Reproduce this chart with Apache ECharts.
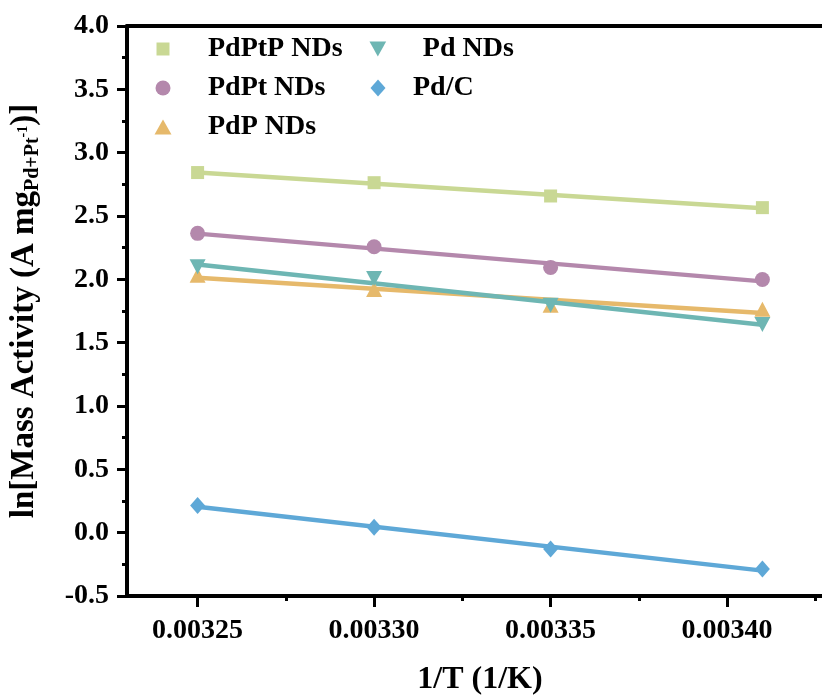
<!DOCTYPE html>
<html>
<head>
<meta charset="utf-8">
<script src="https://cdn.jsdelivr.net/npm/echarts@6/dist/echarts.min.js"></script>
<style>
  html, body { margin: 0; padding: 0; background: #ffffff; }
  #chart { width: 822px; height: 695px; }
</style>
</head>
<body>
<div id="chart"></div>
<script>
// Arrhenius-type plot: ln(mass activity) versus inverse temperature
const invT = [0.00325, 0.00330, 0.00335, 0.00341];

const seriesNames = ['PdPtP NDs', 'PdPt NDs', 'PdP NDs', 'Pd NDs', 'Pd/C'];
const pdptp = [2.843, 2.763, 2.658, 2.566];
const pdpt  = [2.363, 2.257, 2.094, 1.999];
const pdp   = [2.033, 1.920, 1.796, 1.764];
const pd    = [2.099, 2.007, 1.796, 1.643];
const pdc   = [0.214, 0.042, -0.129, -0.287];

const xMajorTicks = [0.00325, 0.00330, 0.00335, 0.00340];
const xMinorTicks = [0.003275, 0.003325, 0.003375, 0.003425];

const colors = ['#c9d894', '#b488ac', '#e6b96b', '#6eb6b3', '#5ea8d7'];
const downTriangle = 'path://M0,0 L10,0 L5,9 Z';
const symbols = ['rect', 'circle', 'triangle', downTriangle, 'diamond'];
const symbolSizes = [13, 15, [16, 15], [16, 15], [15, 17]];
const values = [pdptp, pdpt, pdp, pd, pdc];

// least-squares straight line through each data set
function linearFit(xs, ys) {
  const n = xs.length;
  const mx = xs.reduce((a, b) => a + b, 0) / n;
  const my = ys.reduce((a, b) => a + b, 0) / n;
  let sxy = 0, sxx = 0;
  for (let i = 0; i < n; i++) {
    sxy += (xs[i] - mx) * (ys[i] - my);
    sxx += (xs[i] - mx) * (xs[i] - mx);
  }
  const k = sxy / sxx;
  const b = my - k * mx;
  const x0 = xs[0], x1 = xs[n - 1];
  return [[x0, k * x0 + b], [x1, k * x1 + b]];
}

const FONT = '"Liberation Serif", "Times New Roman", serif';

const fitSeries = values.map((ys, i) => ({
  name: seriesNames[i] + ' fit',
  type: 'line',
  data: linearFit(invT, ys),
  showSymbol: false,
  symbol: 'none',
  lineStyle: { color: colors[i], width: 4.5 },
  z: 2,
  silent: true
}));

const pointSeries = values.map((ys, i) => ({
  name: seriesNames[i],
  type: 'scatter',
  data: invT.map((x, j) => [x, ys[j]]),
  symbol: symbols[i],
  symbolSize: symbolSizes[i],
  itemStyle: { color: colors[i], opacity: 1 },
  z: 3
}));

// one legend block per entry, laid out in two columns
const legendSpec = [
  { name: 'PdPtP NDs', cx: 163, cy: 49, w: 13, h: 13, textX: 208 },
  { name: 'PdPt NDs',  cx: 163, cy: 88, w: 15, h: 15, textX: 208 },
  { name: 'PdP NDs',   cx: 163, cy: 127, w: 17, h: 15, textX: 208 },
  { name: 'Pd NDs',    cx: 378, cy: 49, w: 17, h: 15, textX: 423 },
  { name: 'Pd/C',      cx: 378, cy: 88, w: 15, h: 17, textX: 413 }
];
const legends = legendSpec.map(s => ({
  data: [s.name],
  orient: 'vertical',
  left: s.cx - s.w / 2,
  top: s.cy - 14,
  padding: 0,
  itemWidth: s.w,
  itemHeight: s.h,
  selectedMode: false,
  textStyle: {
    fontFamily: FONT,
    fontWeight: 'bold',
    fontSize: 28,
    lineHeight: 28,
    color: '#000',
    padding: [0, 0, 0, s.textX - s.cx - s.w / 2 - 5]
  }
}));

const axisLineStyle = { color: '#000', width: 4 };

const option = {
  animation: false,
  backgroundColor: '#ffffff',
  legend: legends,
  grid: {
    left: 127, top: 26, width: 706, height: 570,
    containLabel: false,
    outerBoundsMode: 'none'
  },
  xAxis: [
    {
      type: 'value',
      min: 0.00323,
      max: 0.00343,
      position: 'bottom',
      axisLine: { show: true, onZero: false, lineStyle: axisLineStyle },
      axisTick: { show: true, inside: false, customValues: xMajorTicks, length: 11, lineStyle: { color: '#000', width: 3 } },
      axisLabel: {
        customValues: xMajorTicks,
        margin: 21,
        formatter: v => v.toFixed(5),
        fontFamily: FONT, fontWeight: 'bold', fontSize: 28, color: '#000'
      },
      splitLine: { show: false },
      name: '1/T (1/K)',
      nameLocation: 'middle',
      nameGap: 68,
      nameTextStyle: { fontFamily: FONT, fontWeight: 'bold', fontSize: 32, color: '#000' }
    },
    {
      type: 'value',
      min: 0.00323,
      max: 0.00343,
      position: 'bottom',
      axisLine: { show: false, onZero: false },
      axisTick: { show: true, inside: false, customValues: xMinorTicks, length: 5, lineStyle: { color: '#000', width: 3 } },
      axisLabel: { show: false },
      splitLine: { show: false }
    },
    {
      type: 'value',
      min: 0.00323,
      max: 0.00343,
      position: 'top',
      axisLine: { show: true, onZero: false, lineStyle: axisLineStyle },
      axisTick: { show: false },
      axisLabel: { show: false },
      splitLine: { show: false }
    }
  ],
  yAxis: {
    type: 'value',
    min: -0.5,
    max: 4.0,
    interval: 0.5,
    axisLine: { show: true, onZero: false, lineStyle: axisLineStyle },
    axisTick: { show: true, inside: false, length: 10, lineStyle: { color: '#000', width: 3 } },
    minorTick: { show: true, splitNumber: 2, length: 5, lineStyle: { color: '#000', width: 3 } },
    axisLabel: {
      margin: 18,
      formatter: v => v.toFixed(1),
      fontFamily: FONT, fontWeight: 'bold', fontSize: 28, color: '#000'
    },
    splitLine: { show: false },
    name: '{a|ln[Mass Activity (A mg}{sub|Pd+Pt}{sup|-1}{a|)]}',
    nameLocation: 'middle',
    nameRotate: 90,
    nameGap: 84,
    nameTextStyle: {
      fontFamily: FONT, fontWeight: 'bold', color: '#000',
      rich: {
        a: { fontFamily: FONT, fontWeight: 'bold', fontSize: 33, color: '#000', lineHeight: 38 },
        sub: { fontFamily: FONT, fontWeight: 'bold', fontSize: 20, color: '#000', verticalAlign: 'bottom', lineHeight: 38, padding: [12, 0, 0, 0] },
        sup: { fontFamily: FONT, fontWeight: 'bold', fontSize: 14, color: '#000', verticalAlign: 'middle', lineHeight: 38, padding: [0, 0, 2, 0] }
      }
    }
  },
  series: fitSeries.concat(pointSeries)
};

const chart = echarts.init(document.getElementById('chart'), null, { renderer: 'canvas' });
chart.setOption(option);
</script>
</body>
</html>
